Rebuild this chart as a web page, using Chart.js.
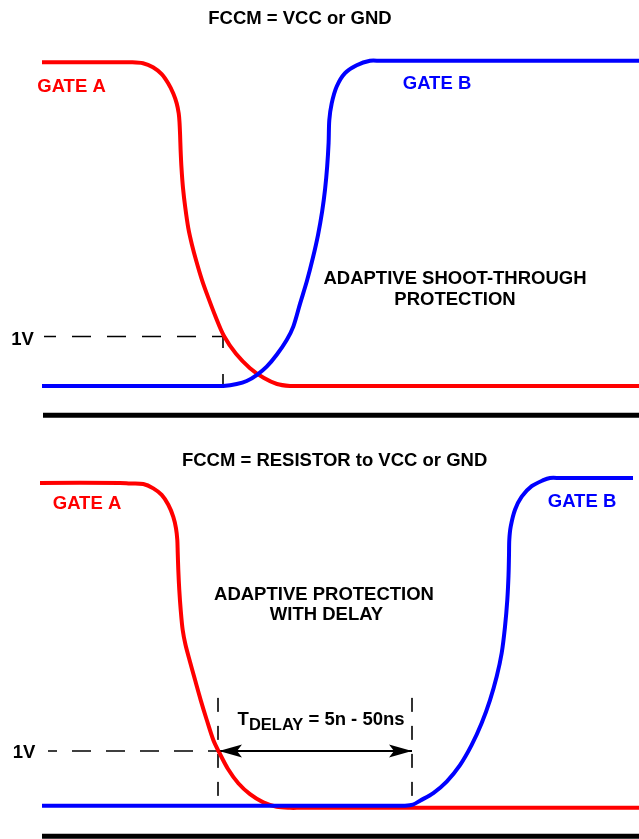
<!DOCTYPE html>
<html>
<head>
<meta charset="utf-8">
<script src="https://cdn.jsdelivr.net/npm/chart.js@4.4.1/dist/chart.umd.min.js"></script>
<style>
  html, body { margin: 0; padding: 0; background: #fff; }
  canvas { display: block; }
</style>
</head>
<body>
<canvas id="chartTop" width="639" height="420"></canvas>
<canvas id="chartBottom" width="639" height="419"></canvas>
<script>
  // time in arbitrary units, gate level in volts (low = 0 V, dashed marker = 1 V)

  // FCCM = VCC or GND
  const topGateA_t = [4.2, 12.0, 13.0, 14.3, 15.3, 16.17, 16.83, 17.33, 17.67, 17.87, 17.95, 18.01, 18.06, 18.15, 18.3, 18.53, 18.83, 19.2, 19.65, 20.2, 20.8, 21.5, 22.4, 23.6, 25.0, 26.4, 27.7, 29.0, 30.0, 63.9];
  const topGateA_v = [6.54, 6.54, 6.54, 6.52, 6.44, 6.30, 6.11, 5.91, 5.71, 5.51, 5.33, 5.07, 4.77, 4.40, 4.00, 3.60, 3.19, 2.85, 2.51, 2.14, 1.80, 1.43, 1.01, 0.65, 0.36, 0.16, 0.04, 0, 0, 0];
  const topGateB_t = [4.2, 21.5, 22.33, 23.67, 24.67, 25.67, 26.67, 27.67, 28.67, 29.33, 30.0, 30.69, 31.29, 31.8, 32.21, 32.51, 32.72, 32.86, 32.93, 33.17, 33.67, 34.5, 35.67, 37.0, 38.0, 63.9];
  const topGateB_v = [0, 0, 0, 0.04, 0.10, 0.22, 0.39, 0.63, 0.93, 1.20, 1.66, 2.12, 2.59, 3.05, 3.52, 3.98, 4.44, 4.91, 5.37, 5.71, 6.05, 6.32, 6.48, 6.57, 6.57, 6.57];
  const topMarkH_t = [22.3, 4.4];
  const topMarkH_v = [1, 1];
  const topMarkV_t = [22.3, 22.3];
  const topMarkV_v = [0, 1];
  const topAxis_t  = [4.3, 63.9];
  const topAxis_v  = [-0.59, -0.59];

  // FCCM = RESISTOR to VCC or GND
  const botGateA_t = [4.0, 12.0, 13.0, 14.33, 15.33, 16.17, 16.83, 17.33, 17.6, 17.73, 17.77, 17.83, 17.93, 18.07, 18.27, 18.55, 19.0, 19.5, 20.07, 20.67, 21.33, 21.9, 22.8, 23.83, 25.0, 26.33, 27.67, 29.0, 30.0, 63.9];
  const botGateA_v = [5.90, 5.90, 5.89, 5.88, 5.80, 5.68, 5.50, 5.28, 5.07, 4.86, 4.64, 4.31, 3.94, 3.58, 3.21, 2.94, 2.63, 2.30, 1.93, 1.57, 1.20, 0.98, 0.67, 0.41, 0.21, 0.06, -0.02, -0.04, -0.04, -0.04];
  const botGateB_t = [4.2, 39.5, 40.5, 41.3, 42.0, 43.33, 44.67, 46.0, 47.17, 48.17, 49.0, 49.67, 50.17, 50.5, 50.73, 50.85, 50.9, 50.93, 51.07, 51.5, 52.17, 53.17, 54.33, 55.0, 56.0, 63.3];
  const botGateB_v = [0, 0, 0, 0.02, 0.09, 0.23, 0.44, 0.74, 1.11, 1.51, 1.93, 2.36, 2.79, 3.27, 3.76, 4.20, 4.58, 4.86, 5.10, 5.41, 5.65, 5.84, 5.95, 5.99, 5.99, 5.99];
  const botMarkH_t  = [21.8, 4.8];
  const botMarkH_v  = [1, 1];
  const botDelayL_t = [21.8, 21.8];
  const botDelayR_t = [41.2, 41.2];
  const botDelay_v  = [1.97, 0.10];
  const botArrow_t  = [21.9, 41.2];
  const botArrow_v  = [1, 1];
  const botAxis_t   = [4.2, 63.9];
  const botAxis_v   = [-0.56, -0.56];

  const RED = '#ff0000';
  const BLUE = '#0000ff';
  const FONT = "'Liberation Sans', Arial, Helvetica, sans-serif";

  const pts = (t, v) => t.map((x, i) => ({x, y: v[i]}));

  function trace(t, v, color, order) {
    return {data: pts(t, v), borderColor: color, borderWidth: 4, tension: 0.3, order};
  }
  function dashed(t, v, dash, offset) {
    return {data: pts(t, v), borderColor: '#000', borderWidth: 1.6, borderDash: dash, borderDashOffset: offset || 0, tension: 0, order: 5};
  }
  function axisLine(t, v) {
    return {data: pts(t, v), borderColor: '#000', borderWidth: 5, tension: 0, order: 6};
  }

  // text placed at (time, volts) through the scales
  const textPlugin = {
    id: 'texts',
    afterDatasetsDraw(chart, args, opts) {
      const {ctx, scales: {x, y}} = chart;
      ctx.save();
      (opts.items || []).forEach(it => {
        const px = x.getPixelForValue(it.t);
        const py = y.getPixelForValue(it.v);
        if (it.parts) {
          let cx = px;
          it.parts.forEach(p => {
            ctx.font = `bold ${p.size}px ${FONT}`;
            ctx.fillStyle = it.color || '#000';
            ctx.textAlign = 'left';
            ctx.textBaseline = 'alphabetic';
            ctx.fillText(p.text, cx, py + 0.36 * 18.5 + (p.dy || 0));
            cx += ctx.measureText(p.text).width;
          });
        } else {
          const size = it.size || 18.5;
          ctx.font = `bold ${size}px ${FONT}`;
          ctx.fillStyle = it.color || '#000';
          ctx.textAlign = 'center';
          ctx.textBaseline = 'alphabetic';
          ctx.fillText(it.text, px, py + 0.36 * size);
        }
      });
      ctx.restore();
    }
  };

  // arrow heads on both ends of datasets flagged with arrows: true
  const arrowPlugin = {
    id: 'arrows',
    afterDatasetsDraw(chart) {
      const ctx = chart.ctx;
      chart.data.datasets.forEach((ds, i) => {
        if (!ds.arrows) return;
        const el = chart.getDatasetMeta(i).data;
        const a = el[0], b = el[el.length - 1];
        [[a, 1], [b, -1]].forEach(([p, dir]) => {
          ctx.save();
          ctx.fillStyle = '#000';
          ctx.beginPath();
          ctx.moveTo(p.x, p.y);
          ctx.lineTo(p.x + dir * 23, p.y - 6.5);
          ctx.lineTo(p.x + dir * 18, p.y);
          ctx.lineTo(p.x + dir * 23, p.y + 6.5);
          ctx.closePath();
          ctx.fill();
          ctx.restore();
        });
      });
    }
  };

  function makeChart(id, datasets, yMin, yMax, items) {
    return new Chart(document.getElementById(id), {
      type: 'line',
      data: {datasets},
      plugins: [textPlugin, arrowPlugin],
      options: {
        responsive: false,
        animation: false,
        layout: {padding: 0},
        elements: {point: {radius: 0}, line: {borderCapStyle: 'butt', borderJoinStyle: 'round', fill: false}},
        scales: {
          x: {type: 'linear', min: 0, max: 63.9, display: false},
          y: {type: 'linear', min: yMin, max: yMax, display: false}
        },
        plugins: {legend: {display: false}, tooltip: {enabled: false}, texts: {items}}
      }
    });
  }

  makeChart('chartTop', [
    trace(topGateB_t, topGateB_v, BLUE, 0),
    trace(topGateA_t, topGateA_v, RED, 1),
    dashed(topMarkH_t, topMarkH_v, [19, 16], 8),
    dashed(topMarkV_t, topMarkV_v, [12, 26], 0),
    axisLine(topAxis_t, topAxis_v)
  ], -0.687, 7.798, [
    {text: 'FCCM = VCC or GND', t: 30.0, v: 7.44},
    {text: 'GATE A', t: 7.15, v: 6.07, color: RED},
    {text: 'GATE B', t: 43.7, v: 6.14, color: BLUE},
    {text: 'ADAPTIVE SHOOT-THROUGH', t: 45.5, v: 2.19},
    {text: 'PROTECTION', t: 45.5, v: 1.78},
    {text: '1V', t: 2.25, v: 0.97}
  ]);

  const arrow = dashed(botArrow_t, botArrow_v, [], 0);
  arrow.borderWidth = 2;
  arrow.arrows = true;

  makeChart('chartBottom', [
    trace(botGateB_t, botGateB_v, BLUE, 0),
    trace(botGateA_t, botGateA_v, RED, 1),
    dashed(botMarkH_t, botMarkH_v, [19, 15], 9),
    dashed(botDelayL_t, botDelay_v, [14, 14], 0),
    dashed(botDelayR_t, botDelay_v, [14, 14], 0),
    arrow,
    axisLine(botAxis_t, botAxis_v)
  ], -0.61, 7.05, [
    {text: 'FCCM = RESISTOR to VCC or GND', t: 33.46, v: 6.33},
    {text: 'GATE A', t: 8.7, v: 5.54, color: RED},
    {text: 'GATE B', t: 58.2, v: 5.59, color: BLUE},
    {text: 'ADAPTIVE PROTECTION', t: 32.4, v: 3.89},
    {text: 'WITH DELAY', t: 32.65, v: 3.51},
    {t: 23.76, v: 1.60, parts: [
      {text: 'T', size: 18.5},
      {text: 'DELAY', size: 16.5, dy: 5.5},
      {text: ' = 5n - 50ns', size: 18.5}
    ]},
    {text: '1V', t: 2.4, v: 1.00}
  ]);
</script>
</body>
</html>
